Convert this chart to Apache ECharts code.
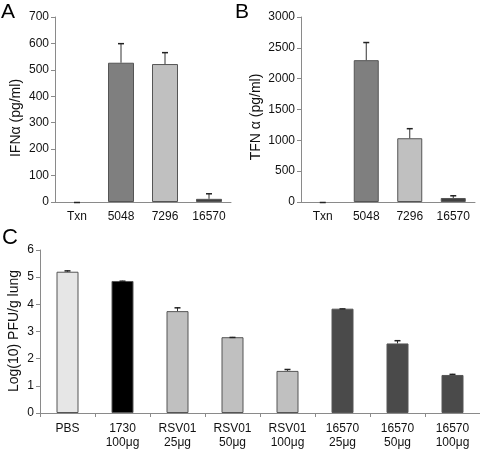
<!DOCTYPE html>
<html>
<head>
<meta charset="utf-8">
<script src="https://cdn.jsdelivr.net/npm/echarts@6/dist/echarts.min.js"></script>
<style>html,body{margin:0;padding:0;background:#fff}#c{width:480px;height:450px}</style>
</head>
<body>
<div id="c"></div>
<script>
// Panel A
const catsA = ['Txn', '5048', '7296', '16570'];
const valsA = [0, 527, 522, 12];
const errA = [0, 74, 45, 21];
const colorsA = ['#333333', '#7f7f7f', '#c0c0c0', '#404040'];
// Panel B
const catsB = ['Txn', '5048', '7296', '16570'];
const valsB = [0, 2300, 1034, 65];
const errB = [0, 294, 163, 44];
const colorsB = ['#333333', '#7f7f7f', '#c0c0c0', '#404040'];
// Panel C
const catsC = ['PBS', '1730\n100μg', 'RSV01\n25μg', 'RSV01\n50μg', 'RSV01\n100μg', '16570\n25μg', '16570\n50μg', '16570\n100μg'];
const valsC = [5.20, 4.86, 3.75, 2.79, 1.55, 3.84, 2.56, 1.40];
const errC = [0.05, 0.01, 0.14, 0.01, 0.07, 0.01, 0.12, 0.04];
const colorsC = ['#e6e6e6', '#000000', '#c0c0c0', '#c0c0c0', '#c0c0c0', '#4a4a4a', '#4a4a4a', '#4a4a4a'];
// Titles
const titleA = 'IFNα (pg/ml)';
const titleB = 'TFN α (pg/ml)';
const titleC = 'Log(10) PFU/g lung';

const FONT = "'Liberation Sans', Arial, sans-serif";
const axisColor = '#8a8a8a';
const textColor = '#111';

function errSeries(idx, vals, errs) {
  return {
    type: 'custom', xAxisIndex: idx, yAxisIndex: idx, z: 5,
    data: vals.map((v, i) => [i, v, errs[i]]),
    renderItem: function (params, api) {
      const base = api.coord([api.value(0), api.value(1)]);
      const top = api.coord([api.value(0), api.value(1) + api.value(2)]);
      const st = { stroke: '#333', lineWidth: 1 };
      return {
        type: 'group',
        children: [
          { type: 'line', shape: { x1: base[0], y1: base[1], x2: top[0], y2: top[1] }, style: st },
          { type: 'line', shape: { x1: top[0] - 3, y1: top[1] + 0.5, x2: top[0] + 3, y2: top[1] + 0.5 }, style: { stroke: '#222', lineWidth: 1.5 } }
        ]
      };
    }
  };
}

function barSeries(idx, vals, colors, w) {
  return {
    type: 'bar', xAxisIndex: idx, yAxisIndex: idx, barWidth: w,
    data: vals.map((v, i) => ({
      value: v,
      itemStyle: { color: colors[i], borderColor: '#555', borderWidth: v === 0 ? 0 : 1, opacity: v === 0 ? 0 : 1 }
    }))
  };
}

function xAxis(idx, cats, ticks, margin) {
  return {
    type: 'category', gridIndex: idx, data: cats,
    axisLine: { lineStyle: { color: axisColor, width: 1 } },
    axisTick: { show: ticks, length: 4, lineStyle: { color: axisColor } },
    axisLabel: { color: textColor, fontFamily: FONT, fontSize: 12, margin: margin, interval: 0, lineHeight: 14 }
  };
}
function yAxis(idx, max, interval) {
  return {
    type: 'value', gridIndex: idx, min: 0, max: max, interval: interval,
    splitLine: { show: false },
    axisLine: { show: true, lineStyle: { color: axisColor, width: 1 } },
    axisTick: { show: true, length: 4, lineStyle: { color: axisColor } },
    axisLabel: { color: textColor, fontFamily: FONT, fontSize: 12, margin: 6, formatter: v => String(v) }
  };
}
function vTitle(text, x, y) {
  return { type: 'text', x: x, y: y, rotation: Math.PI / 2,
    style: { text: text, font: '14px ' + FONT, fill: textColor, textAlign: 'center', textVerticalAlign: 'middle' } };
}

const chart = echarts.init(document.getElementById('c'), null, { renderer: 'canvas' });
chart.setOption({
  animation: false,
  backgroundColor: '#fff',
  grid: [
    { left: 55, top: 17, width: 176, height: 185 },
    { left: 301, top: 17, width: 174, height: 185 },
    { left: 40, top: 250, width: 440, height: 163 }
  ],
  xAxis: [xAxis(0, catsA, false, 8), xAxis(1, catsB, false, 8), xAxis(2, catsC, true, 9)],
  yAxis: [yAxis(0, 700, 100), yAxis(1, 3000, 500), yAxis(2, 6, 1)],
  graphic: [
    { type: 'text', left: 1, top: 2, style: { text: 'A', font: '21px ' + FONT, fill: '#000' } },
    { type: 'text', left: 235, top: 2, style: { text: 'B', font: '21px ' + FONT, fill: '#000' } },
    { type: 'text', left: 2, top: 227, style: { text: 'C', font: '22px ' + FONT, fill: '#000' } },
    vTitle(titleA, 16, 118),
    vTitle(titleB, 256, 117),
    vTitle(titleC, 14, 331)
  ],
  series: [
    barSeries(0, valsA, colorsA, 26), errSeries(0, valsA, errA),
    barSeries(1, valsB, colorsB, 25), errSeries(1, valsB, errB),
    barSeries(2, valsC, colorsC, 22), errSeries(2, valsC, errC)
  ]
});
</script>
</body>
</html>
